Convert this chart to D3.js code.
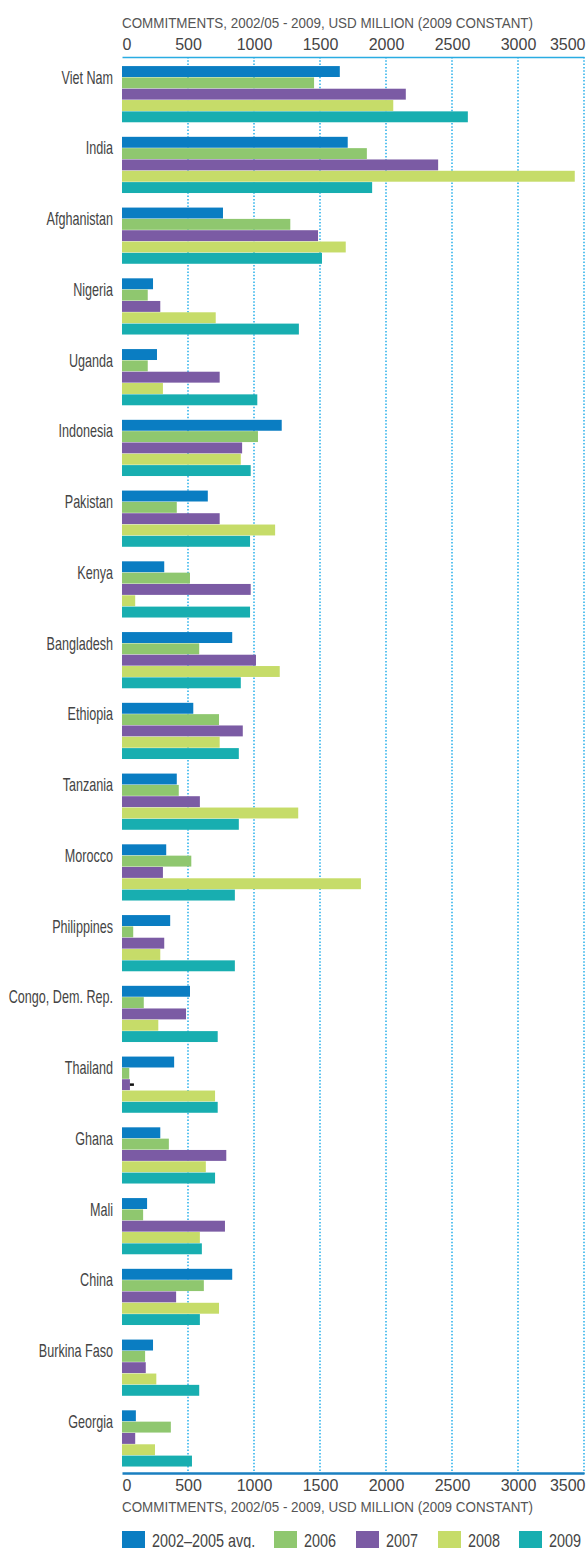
<!DOCTYPE html>
<html>
<head>
<meta charset="utf-8">
<script src="https://cdn.jsdelivr.net/npm/d3@7"></script>
<style>
  body { margin: 0; background: #fff; }
  svg { display: block; }
  .lbl { font-family: "Liberation Sans", sans-serif; fill: #444; }
  .tick text { font-family: "Liberation Sans", sans-serif; font-size: 16px; fill: #444; }
  .ttl { font-family: "Liberation Sans", sans-serif; font-size: 14px; fill: #555; }
</style>
</head>
<body>
<div id="chart"></div>
<script>
// categories, top to bottom
var countries = ["Viet Nam", "India", "Afghanistan", "Nigeria", "Uganda", "Indonesia", "Pakistan",
  "Kenya", "Bangladesh", "Ethiopia", "Tanzania", "Morocco", "Philippines", "Congo, Dem. Rep.",
  "Thailand", "Ghana", "Mali", "China", "Burkina Faso", "Georgia"];

// USD million
var avg0205 = [1650, 1710, 765, 235, 265, 1210, 650, 320, 835, 540, 415, 335, 365, 515, 395, 290, 190, 835, 235, 105];
var y2006   = [1455, 1855, 1275, 195, 195, 1030, 415, 515, 585, 735, 430, 525, 85, 165, 55, 355, 160, 620, 175, 370];
var y2007   = [2150, 2395, 1485, 290, 740, 910, 740, 975, 1015, 915, 590, 310, 320, 485, 60, 790, 780, 410, 180, 100];
var y2008   = [2055, 3430, 1695, 710, 310, 900, 1160, 100, 1195, 740, 1335, 1810, 290, 275, 705, 635, 590, 735, 260, 250];
var y2009   = [2620, 1895, 1515, 1340, 1025, 975, 970, 970, 900, 885, 885, 855, 855, 725, 725, 705, 605, 590, 585, 530];

var seriesNames = ["2002\u20132005 avg.", "2006", "2007", "2008", "2009"];
var seriesColors = ["#0a7dc2", "#8fc76f", "#7b5ba4", "#c6dc69", "#18aeb0"];
var tickValues = [0, 500, 1000, 1500, 2000, 2500, 3000, 3500];
var axisTitle = "COMMITMENTS, 2002/05 - 2009, USD MILLION (2009 CONSTANT)";

var series = [avg0205, y2006, y2007, y2008, y2009];

var w = 586, h = 1548;
var plotLeft = 122, plotRight = 584, plotTop = 59, plotBottom = 1474;

var svg = d3.select("#chart").append("svg")
  .attr("width", w)
  .attr("height", h);

var x = d3.scaleLinear().domain([0, 3500]).range([plotLeft, plotRight]);

var y = d3.scaleBand()
  .domain(countries)
  .range([plotTop, plotBottom])
  .paddingInner(0.2)
  .paddingOuter(0.1);

var ySub = d3.scaleBand()
  .domain(d3.range(series.length))
  .range([0, y.bandwidth()]);

// dotted gridlines
svg.append("g").selectAll("line")
  .data(tickValues.slice(1))
  .enter().append("line")
  .attr("x1", function(d){ return x(d); })
  .attr("x2", function(d){ return x(d); })
  .attr("y1", 57)
  .attr("y2", plotBottom)
  .attr("stroke", "#16a9e8")
  .attr("stroke-width", 1.4)
  .attr("stroke-dasharray", "1.5,1.8");

// bars
var groups = svg.append("g").selectAll("g")
  .data(countries)
  .enter().append("g")
  .attr("transform", function(d){ return "translate(0," + y(d) + ")"; });

groups.selectAll("rect")
  .data(function(d, i){ return series.map(function(s, k){ return {k: k, v: s[i]}; }); })
  .enter().append("rect")
  .attr("x", x(0))
  .attr("y", function(d){ return ySub(d.k); })
  .attr("width", function(d){ return x(d.v) - x(0); })
  .attr("height", ySub.bandwidth() - 0.4)
  .attr("fill", function(d){ return seriesColors[d.k]; });

// small black mark after Thailand 2007 bar (as in the original)
var th = countries.indexOf("Thailand");
svg.append("rect")
  .attr("x", x(y2007[th]))
  .attr("y", y("Thailand") + ySub(2) + ySub.bandwidth() / 2 - 1.5)
  .attr("width", 4)
  .attr("height", 2.5)
  .attr("fill", "#111");

// country labels (squeezed to look like a condensed face)
svg.append("g").selectAll("text")
  .data(countries)
  .enter().append("text")
  .attr("class", "lbl")
  .attr("transform", function(d){ return "translate(113," + (y(d) + 17.5) + ") scale(0.7,1)"; })
  .attr("text-anchor", "end")
  .attr("font-size", "18px")
  .text(function(d){ return d; });

// axes
function styleAxis(g, color, width) {
  g.select(".domain").attr("stroke", color).attr("stroke-width", width);
  g.selectAll(".tick line").remove();
  g.selectAll(".tick text")
    .attr("text-anchor", function(d){ return d === 0 ? "start" : (d === 3500 ? "end" : "middle"); })
    .attr("dx", function(d){ return d === 3500 ? 1 : 0; });
}

var topAxis = svg.append("g")
  .attr("transform", "translate(0,57)")
  .call(d3.axisTop(x).tickValues(tickValues).tickFormat(d3.format("d"))
    .tickSize(0).tickSizeOuter(0).tickPadding(7));
styleAxis(topAxis, "#2aace2", 1.3);

var botAxis = svg.append("g")
  .attr("transform", "translate(0," + (plotBottom - 1) + ")")
  .call(d3.axisBottom(x).tickValues(tickValues).tickFormat(d3.format("d"))
    .tickSize(0).tickSizeOuter(0).tickPadding(6));
styleAxis(botAxis, "#1a7fc0", 2.6);
botAxis.selectAll(".tick text").attr("dy", "0.72em");

// axis titles
svg.append("text").attr("class", "ttl")
  .attr("x", plotLeft).attr("y", 28)
  .attr("textLength", 411).attr("lengthAdjust", "spacingAndGlyphs")
  .text(axisTitle);

svg.append("text").attr("class", "ttl")
  .attr("x", plotLeft).attr("y", 1512)
  .attr("textLength", 411).attr("lengthAdjust", "spacingAndGlyphs")
  .text(axisTitle);

// legend
var legendX = [122, 274, 356, 438, 519];
var legend = svg.append("g").selectAll("g")
  .data(seriesNames)
  .enter().append("g")
  .attr("transform", function(d, i){ return "translate(" + legendX[i] + ",1531)"; });

legend.append("rect")
  .attr("width", 23)
  .attr("height", 17)
  .attr("fill", function(d, i){ return seriesColors[i]; });

legend.append("text")
  .attr("class", "lbl")
  .attr("transform", "translate(30,15.5) scale(0.8,1)")
  .attr("font-size", "18px")
  .text(function(d){ return d; });
</script>
</body>
</html>
